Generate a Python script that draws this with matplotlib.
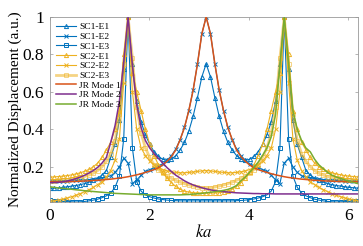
import numpy as np
import matplotlib.pyplot as plt

# ka grid: 72 samples, 5 degree step, 0 .. 2*pi - step
ka = np.arange(72) * 2 * np.pi / 72

sc1_e1 = [0.085, 0.086, 0.088, 0.09, 0.093, 0.097, 0.10, 0.105, 0.11, 0.118, 0.127, 0.14,
          0.155, 0.18, 0.25, 0.32, 0.45, 0.72, 1.0, 0.75, 0.55, 0.44, 0.37, 0.32,
          0.28, 0.255, 0.24, 0.235, 0.24, 0.26, 0.29, 0.33, 0.39, 0.47, 0.57, 0.68,
          0.75, 0.68, 0.57, 0.47, 0.39, 0.33, 0.29, 0.26, 0.24, 0.235, 0.24, 0.255,
          0.28, 0.32, 0.37, 0.44, 0.55, 0.75, 1.0, 0.72, 0.45, 0.32, 0.25, 0.18,
          0.155, 0.14, 0.127, 0.118, 0.11, 0.105, 0.10, 0.097, 0.093, 0.09, 0.088, 0.086]
sc1_e2 = [0.125, 0.125, 0.125, 0.126, 0.126, 0.127, 0.128, 0.129, 0.13, 0.132, 0.134, 0.137,
          0.14, 0.145, 0.152, 0.17, 0.20, 0.245, 0.22, 0.11, 0.13, 0.155, 0.175, 0.185,
          0.195, 0.205, 0.215, 0.235, 0.26, 0.295, 0.345, 0.41, 0.50, 0.61, 0.75, 0.91,
          1.0, 0.91, 0.75, 0.61, 0.50, 0.41, 0.345, 0.295, 0.26, 0.235, 0.215, 0.205,
          0.195, 0.185, 0.175, 0.155, 0.13, 0.11, 0.22, 0.245, 0.20, 0.17, 0.152, 0.145,
          0.14, 0.137, 0.134, 0.132, 0.13, 0.129, 0.128, 0.127, 0.126, 0.126, 0.125, 0.125]
sc1_e3 = [0.02, 0.018, 0.016, 0.015, 0.014, 0.013, 0.012, 0.013, 0.015, 0.018, 0.022, 0.027,
          0.035, 0.045, 0.06, 0.09, 0.15, 0.35, 1.0, 0.30, 0.12, 0.07, 0.05, 0.04,
          0.033, 0.028, 0.025, 0.022, 0.02, 0.019, 0.018, 0.018, 0.018, 0.018, 0.018, 0.018,
          0.018, 0.018, 0.018, 0.018, 0.018, 0.018, 0.018, 0.019, 0.02, 0.022, 0.025, 0.028,
          0.033, 0.04, 0.05, 0.07, 0.12, 0.30, 1.0, 0.35, 0.15, 0.09, 0.06, 0.045,
          0.035, 0.027, 0.022, 0.018, 0.015, 0.013, 0.012, 0.013, 0.014, 0.015, 0.016, 0.018]
sc2_e1 = [0.145, 0.146, 0.148, 0.15, 0.153, 0.157, 0.162, 0.168, 0.176, 0.186, 0.20, 0.22,
          0.25, 0.29, 0.33, 0.40, 0.50, 0.80, 1.0, 0.70, 0.60, 0.50, 0.40, 0.32,
          0.26, 0.21, 0.17, 0.14, 0.115, 0.095, 0.08, 0.07, 0.065, 0.062, 0.06, 0.06,
          0.06, 0.06, 0.06, 0.062, 0.065, 0.07, 0.08, 0.095, 0.115, 0.14, 0.17, 0.21,
          0.26, 0.32, 0.40, 0.50, 0.60, 0.70, 1.0, 0.80, 0.50, 0.40, 0.33, 0.29,
          0.25, 0.22, 0.20, 0.186, 0.176, 0.168, 0.162, 0.157, 0.153, 0.15, 0.148, 0.146]
sc2_e2 = [0.015, 0.018, 0.022, 0.027, 0.033, 0.04, 0.048, 0.057, 0.067, 0.078, 0.09, 0.105,
          0.12, 0.145, 0.18, 0.235, 0.35, 0.65, 1.0, 0.60, 0.40, 0.30, 0.26, 0.23,
          0.21, 0.195, 0.185, 0.178, 0.173, 0.17, 0.168, 0.168, 0.17, 0.172, 0.175, 0.178,
          0.18, 0.178, 0.175, 0.172, 0.17, 0.168, 0.168, 0.17, 0.173, 0.178, 0.185, 0.195,
          0.21, 0.23, 0.26, 0.30, 0.40, 0.60, 1.0, 0.65, 0.35, 0.235, 0.18, 0.145,
          0.12, 0.105, 0.09, 0.078, 0.067, 0.057, 0.048, 0.04, 0.033, 0.027, 0.022, 0.018]
sc2_e3 = [0.125, 0.126, 0.127, 0.128, 0.13, 0.133, 0.137, 0.142, 0.148, 0.156, 0.166, 0.18,
          0.20, 0.23, 0.27, 0.34, 0.48, 0.75, 1.0, 0.78, 0.52, 0.38, 0.30, 0.25,
          0.21, 0.185, 0.165, 0.15, 0.138, 0.128, 0.118, 0.11, 0.103, 0.097, 0.092, 0.088,
          0.086, 0.088, 0.092, 0.097, 0.103, 0.11, 0.118, 0.128, 0.138, 0.15, 0.165, 0.185,
          0.21, 0.25, 0.30, 0.38, 0.52, 0.78, 1.0, 0.75, 0.48, 0.34, 0.27, 0.23,
          0.20, 0.18, 0.166, 0.156, 0.148, 0.142, 0.137, 0.133, 0.13, 0.128, 0.127, 0.126]

jr_mode1 = [0.12, 0.12, 0.12, 0.12, 0.121, 0.121, 0.122, 0.123, 0.124, 0.125, 0.127, 0.128,
            0.13, 0.132, 0.134, 0.137, 0.14, 0.143, 0.147, 0.152, 0.157, 0.163, 0.17, 0.177,
            0.185, 0.195, 0.21, 0.23, 0.255, 0.29, 0.345, 0.41, 0.50, 0.61, 0.75, 0.91,
            1.0, 0.91, 0.75, 0.61, 0.50, 0.41, 0.345, 0.29, 0.255, 0.23, 0.21, 0.195,
            0.185, 0.177, 0.17, 0.163, 0.157, 0.152, 0.147, 0.143, 0.14, 0.137, 0.134, 0.132,
            0.13, 0.128, 0.127, 0.125, 0.124, 0.123, 0.122, 0.121, 0.121, 0.12, 0.12, 0.12]
jr_mode2 = [0.115, 0.116, 0.117, 0.12, 0.124, 0.13, 0.137, 0.145, 0.155, 0.167, 0.18, 0.197,
            0.22, 0.25, 0.33, 0.42, 0.55, 0.76, 1.0, 0.74, 0.53, 0.41, 0.34, 0.30,
            0.27, 0.245, 0.22, 0.195, 0.175, 0.155, 0.14, 0.125, 0.113, 0.103, 0.095, 0.088,
            0.082, 0.077, 0.073, 0.07, 0.067, 0.065, 0.063, 0.061, 0.06, 0.059, 0.058, 0.057,
            0.057, 0.056, 0.056, 0.056, 0.055, 0.055, 0.055, 0.055, 0.055, 0.055, 0.055, 0.055,
            0.055, 0.055, 0.055, 0.055, 0.055, 0.055, 0.055, 0.055, 0.055, 0.055, 0.055, 0.055]
jr_mode3 = [0.093, 0.09, 0.087, 0.085, 0.082, 0.08, 0.077, 0.075, 0.072, 0.07, 0.068, 0.066,
            0.064, 0.062, 0.06, 0.058, 0.057, 0.056, 0.055, 0.054, 0.053, 0.052, 0.051, 0.05,
            0.05, 0.05, 0.05, 0.05, 0.05, 0.05, 0.05, 0.051, 0.052, 0.054, 0.056, 0.058,
            0.061, 0.064, 0.067, 0.07, 0.074, 0.079, 0.088, 0.10, 0.125, 0.145, 0.17, 0.195,
            0.225, 0.26, 0.30, 0.36, 0.48, 0.74, 1.0, 0.75, 0.50, 0.40, 0.34, 0.30,
            0.28, 0.24, 0.21, 0.19, 0.17, 0.155, 0.145, 0.138, 0.13, 0.122, 0.116, 0.11]

blue = '#0072BD'
yellow = '#EDB120'
plt.rcParams['font.family'] = ['Liberation Serif', 'DejaVu Serif']
plt.rcParams['mathtext.fontset'] = 'stix'

fig = plt.figure(figsize=(3.63, 2.46), dpi=100)
ax = fig.add_axes([0.1377, 0.1789, 0.8485, 0.752])

lw, ms = 0.8, 3
ax.plot(ka, sc1_e1, '-^', color=blue, lw=lw, ms=ms, mfc='none', mew=0.7, label='SC1-E1')
ax.plot(ka, sc1_e2, '-x', color=blue, lw=lw, ms=ms, mew=0.7, label='SC1-E2')
ax.plot(ka, sc1_e3, '-s', color=blue, lw=lw, ms=ms, mfc='none', mew=0.7, label='SC1-E3')
ax.plot(ka, sc2_e1, '-^', color=yellow, lw=lw, ms=ms, mfc='none', mew=0.7, label='SC2-E1')
ax.plot(ka, sc2_e2, '-x', color=yellow, lw=lw, ms=ms, mew=0.7, label='SC2-E2')
ax.plot(ka, sc2_e3, '-s', color=yellow, lw=2.0, ms=ms, mfc='none', mew=0.7, alpha=0.55,
        label='SC2-E3')
ax.plot(ka, jr_mode1, '-', color='#D95319', lw=1.1, label='JR Mode 1', zorder=5)
ax.plot(ka, jr_mode2, '-', color='#7E2F8E', lw=1.1, label='JR Mode 2', zorder=5)
ax.plot(ka, jr_mode3, '-', color='#77AC30', lw=1.1, label='JR Mode 3', zorder=5)

ax.set_xlim(ka[0], ka[-1])
ax.set_ylim(0.012, 1)
ax.set_xticks([0, 2, 4, 6])
ax.set_yticks([0.2, 0.4, 0.6, 0.8, 1])
ax.set_yticklabels(['0.2', '0.4', '0.6', '0.8', '1'])
ax.tick_params(direction='in', top=True, right=True, labelsize=12.5, length=2.5,
               width=0.5, color='#999999', pad=4.5)
for s in ax.spines.values():
    s.set_color('#999999')
    s.set_linewidth(0.6)

ax.set_xlabel('$ka$', fontsize=12, labelpad=0)
ax.set_ylabel('Normalized Displacement (a.u.)', fontsize=11, labelpad=0)

ax.legend(loc='upper left', fontsize=6.8, frameon=False, handlelength=2.2,
          handletextpad=0.3, labelspacing=0.12, borderaxespad=0.2,
          bbox_to_anchor=(0.0, 1.0))

fig.savefig('out.png', dpi=100)
